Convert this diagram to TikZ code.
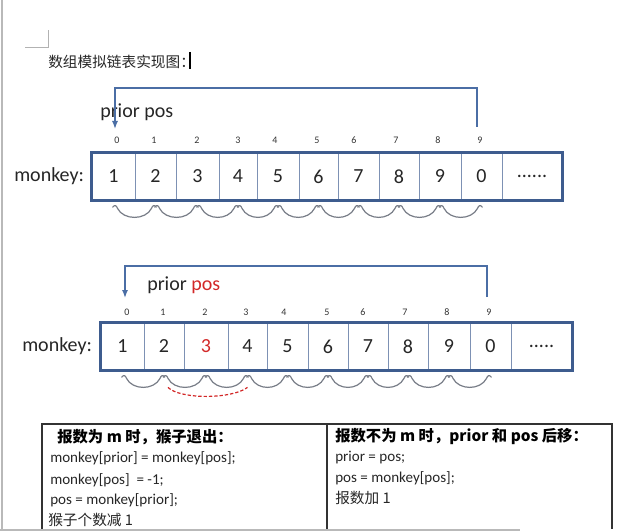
\documentclass[tikz,border=0pt]{standalone}
\usepackage{fontspec}
\setmainfont{Carlito}
\newfontfamily\cjk{Noto Sans CJK SC}
\usetikzlibrary{arrows.meta,calc}
\definecolor{boxc}{RGB}{62,92,142}
\definecolor{divc}{RGB}{125,145,180}
\definecolor{arrc}{RGB}{75,110,165}
\definecolor{redc}{RGB}{210,40,40}
\definecolor{linkc}{RGB}{120,125,135}
\newcommand\mysixdots{......}
\newcommand\myfivedots{.....}
\tikzset{
  cell/.style={draw=divc, line width=0.6pt, inner sep=0pt, minimum height=35.25pt,
    font=\fontsize{15}{18}\selectfont, text=black!85},
  outerbox/.style={draw=boxc, line width=1.9pt},
  idx/.style={inner sep=0pt, font=\fontsize{7.5}{9}\selectfont, text=black!80},
  conn/.style={draw=arrc, line width=1pt, -{Latex[length=6pt,width=4.5pt]}},
  lbl/.style={anchor=west, inner sep=0pt, font=\fontsize{15}{18}\selectfont, text=black!85},
  link/.style={draw=linkc, line width=0.9pt},
  redlink/.style={draw=redc, line width=0.9pt, dash pattern=on 2.5pt off 1.5pt},
  tt/.style={anchor=west, inner sep=0pt, font=\fontsize{11.3}{13}\selectfont, text=black!85},
  th/.style={anchor=west, inner sep=0pt, font=\cjk\bfseries\fontsize{11.5}{13}\selectfont, text=black},
  tbl/.style={draw=black!80, line width=0.8pt}
}
\begin{document}
\begin{tikzpicture}[x=0.75pt,y=-0.75pt]
\useasboundingbox (0,0) rectangle (638,531);
% page marks
\draw[gray!55, line width=1pt] (2,0) -- (2,531);
\draw[gray!60, line width=0.6pt] (25,47) -- (48,47) -- (48,30);
% title
\node[anchor=west, inner sep=0pt, font=\cjk\fontsize{11}{13}\selectfont, text=black!85] (title) at (48,62) {数组模拟链表实现图：};
\coordinate (cur1) at (190,52);
\coordinate (cur2) at (190,69);
\draw[black, line width=0.9pt] (cur1) -- (cur2);

% ---------- top array ----------
\foreach \l/\r/\v [count=\i] in {92/135/1,135/176/2,176/219/3,219/257/4,257/299/5,299/338/6,338/379/7,379/419/8,419/461/9,461/502/0,502/562/\mysixdots}
  \node[cell, minimum width={(\r-\l)*0.75pt}] (ta\i) at ({(\l+\r)/2},176.5) {\v};
\draw[outerbox] (ta1.north west) rectangle (ta11.south east);
\foreach \x [count=\i from 0] in {117,154,197,238,275,317,354,396,438,480}
  \node[idx] (ti\i) at (\x,140) {\i};
\node[lbl] (tmonkey) at (14,176.5) {monkey:};
\node[lbl] (tprior) at (100,112) {prior pos};
\coordinate (tR) at (477,127);
\coordinate (tL) at (115,129);
\draw[conn] (tR) -- ++(0,-39) -| (tL);
\foreach \a/\b in {1/2,2/3,3/4,4/5,5/6,6/7,7/8,8/9,9/10}
  \draw[link] ([shift={(-1,7)}]ta\a.south) .. controls ([shift={(1,4)}]ta\a.south) and ([shift={(3,5)}]ta\a.south) .. ([shift={(4,8)}]ta\a.south)
    .. controls ([shift={(10,20)}]ta\a.south) and ([shift={(-10,20)}]ta\b.south) .. ([shift={(-4,8)}]ta\b.south)
    .. controls ([shift={(-3,5)}]ta\b.south) and ([shift={(-1,4)}]ta\b.south) .. ([shift={(1,7)}]ta\b.south);

% ---------- bottom array ----------
\foreach \l/\r/\v [count=\i] in {101/144/1,144/184/2,184/228/{\textcolor{redc}{3}},228/267/4,267/308/5,308/348/6,348/388/7,388/428/8,428/470/9,470/511/0,511/572/\myfivedots}
  \node[cell, minimum width={(\r-\l)*0.75pt}] (ba\i) at ({(\l+\r)/2},346.5) {\v};
\draw[outerbox] (ba1.north west) rectangle (ba11.south east);
\foreach \x [count=\i from 0] in {127,163,205,246,284,327,363,405,447,489}
  \node[idx] (bi\i) at (\x,312) {\i};
\node[lbl] (bmonkey) at (22,346.5) {monkey:};
\node[lbl] (bprior) at (147,285) {prior \textcolor{redc}{pos}};
\coordinate (bR) at (487,297);
\coordinate (bL) at (125,298);
\draw[conn] (bR) -- ++(0,-31) -| (bL);
\foreach \a/\b in {1/2,2/3,3/4,4/5,5/6,6/7,7/8,8/9,9/10}
  \draw[link] ([shift={(-1,7)}]ba\a.south) .. controls ([shift={(1,4)}]ba\a.south) and ([shift={(3,5)}]ba\a.south) .. ([shift={(4,8)}]ba\a.south)
    .. controls ([shift={(10,20)}]ba\a.south) and ([shift={(-10,20)}]ba\b.south) .. ([shift={(-4,8)}]ba\b.south)
    .. controls ([shift={(-3,5)}]ba\b.south) and ([shift={(-1,4)}]ba\b.south) .. ([shift={(1,7)}]ba\b.south);
\draw[redlink] ([shift={(4,17)}]ba2.south) .. controls ([shift={(16,29)}]ba2.south) and ([shift={(-16,29)}]ba4.south) .. ([shift={(0,17)}]ba4.south);

% ---------- table ----------
\coordinate (tbTL) at (42,424);
\coordinate (tbTR) at (612,424);
\coordinate (tbBL) at (42,529);
\coordinate (tbBR) at (612,529);
\coordinate (tbTM) at (327,424);
\coordinate (tbBM) at (327,529);
\draw[tbl] (tbBL) -- (tbTL) -- (tbTR) -- (tbBR);
\draw[tbl] (tbTM) -- (tbBM);
\draw[gray!55, line width=1.2pt] (0,530) -- (520,530);
\node[th] (h1) at (57,437) {报数为 m 时，猴子退出：};
\node[tt] (l1) at (50,458) {monkey[prior] = monkey[pos];};
\node[tt] (l2) at (50,480) {monkey[pos]\ \ = -1;};
\node[tt] (l3) at (50,500) {pos = monkey[prior];};
\node[tt, font=\cjk\fontsize{11}{13}\selectfont] (l4) at (48,520) {猴子个数减 1};
\node[th] (h2) at (335,437) {报数不为 m 时，prior 和 pos 后移：};
\node[tt] (r1) at (335,458) {prior = pos;};
\node[tt] (r2) at (335,478) {pos = monkey[pos];};
\node[tt, font=\cjk\fontsize{11}{13}\selectfont] (r3) at (335,498) {报数加 1};
\end{tikzpicture}
\end{document}
